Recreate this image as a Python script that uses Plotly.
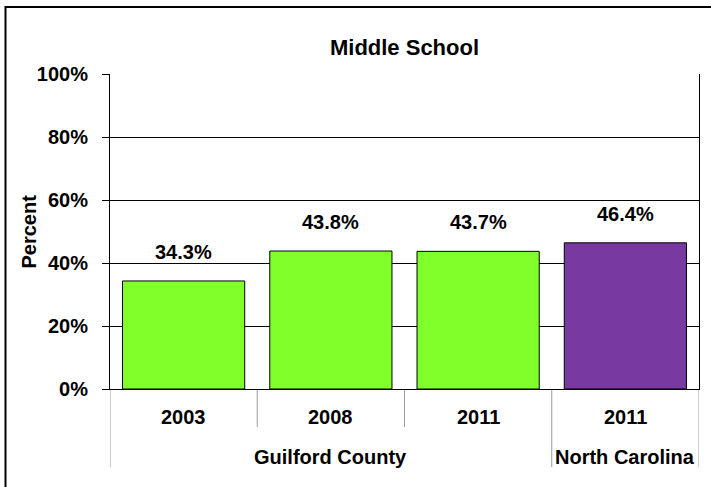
import plotly.graph_objects as go

# ---- data ----
years = ["2003", "2008", "2011", "2011"]
groups = ["Guilford County", "Guilford County", "Guilford County", "North Carolina"]
values = [34.3, 43.8, 43.7, 46.4]
bar_colors = ["#80FF2A", "#80FF2A", "#80FF2A", "#7839A1"]
title_text = "Middle School"
y_title = "Percent"

FONT = "Arial, Liberation Sans, sans-serif"
W, H = 711, 487
L, R, T, B = 110, 12, 74, 98
PH = H - T - B
PW = W - L - R

xs = list(range(len(values)))

fig = go.Figure()
fig.add_trace(go.Bar(
    x=xs, y=values,
    marker=dict(color=bar_colors, line=dict(color="black", width=1)),
    width=0.83,
    hoverinfo="skip",
))

bold20 = dict(family=FONT, size=20, color="black", weight="bold")

annotations = []
# value labels
for x, v in zip(xs, values):
    annotations.append(dict(
        x=x, y=v, xref="x", yref="y", text=f"{v:.1f}%", showarrow=False,
        yanchor="middle", yshift=29, font=bold20,
    ))
# year labels
for x, yr in zip(xs, years):
    annotations.append(dict(
        x=x, y=0, xref="x", yref="paper", text=yr, showarrow=False,
        yanchor="middle", yshift=-28, font=bold20,
    ))
# group labels and boundaries
group_spans = []
start = 0
for i in range(1, len(groups) + 1):
    if i == len(groups) or groups[i] != groups[start]:
        group_spans.append((groups[start], start, i - 1))
        start = i
for name, a, b in group_spans:
    annotations.append(dict(
        x=(a + b) / 2, y=0, xref="x", yref="paper", text=name, showarrow=False,
        yanchor="middle", yshift=-68, font=bold20,
    ))
# y title
annotations.append(dict(
    x=(28 - L) / PW, y=0.5, xref="paper", yref="paper", text=y_title,
    showarrow=False, textangle=-90, xanchor="center", yanchor="middle",
    font=bold20,
))

shapes = []
group_edges = set()
for name, a, b in group_spans:
    group_edges.add(a - 0.5)
    group_edges.add(b + 0.5)
for i in range(len(xs) + 1):
    bx = i - 0.5
    depth = 78 if bx in group_edges else 38
    shapes.append(dict(
        type="line", xref="x", yref="paper", x0=bx, x1=bx, y0=0, y1=-depth / PH,
        line=dict(color="#9a9a9a", width=1), layer="below",
    ))
# outer chart border
shapes.append(dict(
    type="rect", xref="paper", yref="paper",
    x0=(5.5 - L) / PW, x1=(W + 5 - L) / PW,
    y0=-(B + 5) / PH, y1=(H - 7 - B) / PH,
    line=dict(color="black", width=2), fillcolor="rgba(0,0,0,0)",
))

fig.update_layout(
    width=W, height=H,
    margin=dict(l=L, r=R, t=T, b=B),
    paper_bgcolor="white", plot_bgcolor="white",
    showlegend=False,
    title=dict(text=title_text, x=0.5, xref="paper", xanchor="center",
               y=1 - 47 / H, yanchor="middle",
               font=dict(family=FONT, size=22, color="black", weight="bold")),
    xaxis=dict(range=[-0.5, len(xs) - 0.5], showticklabels=False, ticks="",
               showgrid=False, zeroline=False, showline=True,
               linecolor="black", linewidth=1, fixedrange=True),
    yaxis=dict(range=[0, 100], dtick=20, ticksuffix="%", ticks="outside",
               ticklen=7, tickcolor="black", showline=True, linecolor="black",
               linewidth=1, mirror=True, showgrid=True, gridcolor="black",
               gridwidth=1, zeroline=False, ticklabelstandoff=10,
               tickfont=bold20, fixedrange=True),
    annotations=annotations,
    shapes=shapes,
)

fig.write_html("out.html",
               config={"displayModeBar": False},
               post_script="document.body.style.margin='0';document.body.style.padding='0';")
